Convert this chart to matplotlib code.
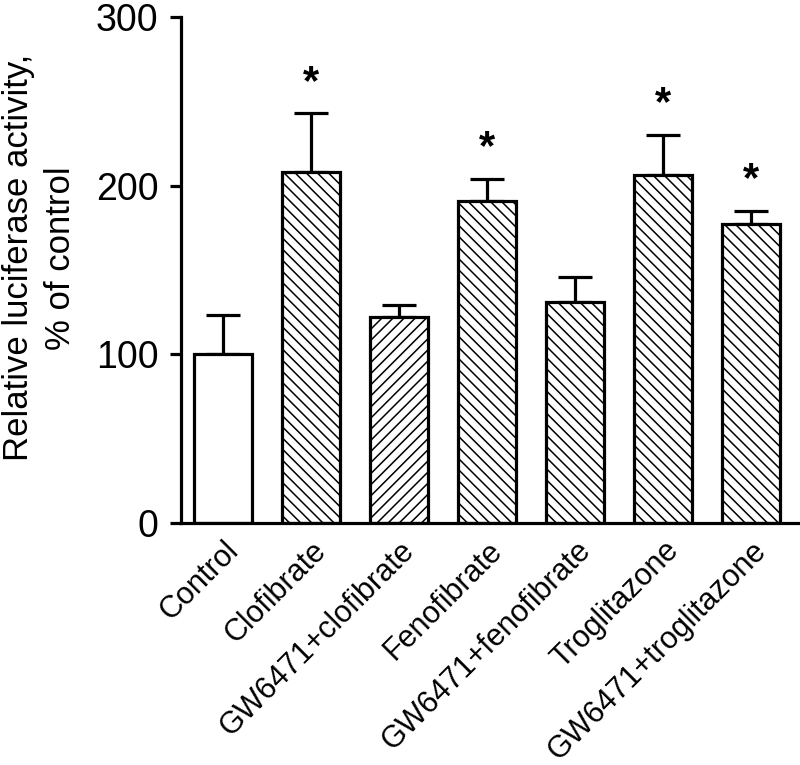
import matplotlib
matplotlib.use("Agg")
import matplotlib.pyplot as plt

plt.rcParams['font.family'] = ['Liberation Sans', 'DejaVu Sans']
plt.rcParams['hatch.linewidth'] = 1.1

# data
groups = ["Control", "Clofibrate", "GW6471+clofibrate", "Fenofibrate",
          "GW6471+fenofibrate", "Troglitazone", "GW6471+troglitazone"]
means = [100, 208, 122, 191, 131, 206, 177]
errors = [23, 35, 7, 13, 15, 24, 8]
hatches = ["", "\\\\\\", "///", "\\\\\\", "\\\\\\", "\\\\\\", "\\\\\\"]
significant = [False, True, False, True, False, True, True]

fig = plt.figure(figsize=(8, 7.65), dpi=100)
ax = fig.add_axes([0.226, 0.3163, 0.7715, 0.6617])

x = list(range(len(groups)))
for i in x:
    ax.bar(i, means[i], width=0.66, color="white", edgecolor="black",
           linewidth=2.3, hatch=hatches[i], zorder=2)
ax.errorbar(x, means, yerr=[[0] * len(errors), errors], fmt="none",
            ecolor="black", elinewidth=2.3, capsize=12, capthick=2.3, zorder=1)

# significance stars
for i in x:
    if significant[i]:
        ax.text(i, means[i] + errors[i] + 18, "*", ha="center", va="center",
                fontsize=30, fontweight="bold")

ax.set_xlim(-0.48, 6.53)
ax.set_ylim(0, 300)
ax.set_yticks([0, 100, 200, 300])
ax.set_xticks(x)
ax.set_xticklabels(groups, rotation=45, ha="right", rotation_mode="anchor",
                   fontsize=22)
ax.tick_params(axis="x", length=0, pad=9)
ax.tick_params(axis="y", length=8, width=2.3, labelsize=27, pad=8)

for s in ["top", "right"]:
    ax.spines[s].set_visible(False)
for s in ["left", "bottom"]:
    ax.spines[s].set_linewidth(2.3)

# y axis title, two lines
fig.text(19 / 800, 1 - 257 / 765, "Relative luciferase activity,", rotation=90,
         ha="center", va="center", fontsize=25)
fig.text(60 / 800, 1 - 258 / 765, "% of control", rotation=90,
         ha="center", va="center", fontsize=25)

fig.savefig("out.png", dpi=100)
